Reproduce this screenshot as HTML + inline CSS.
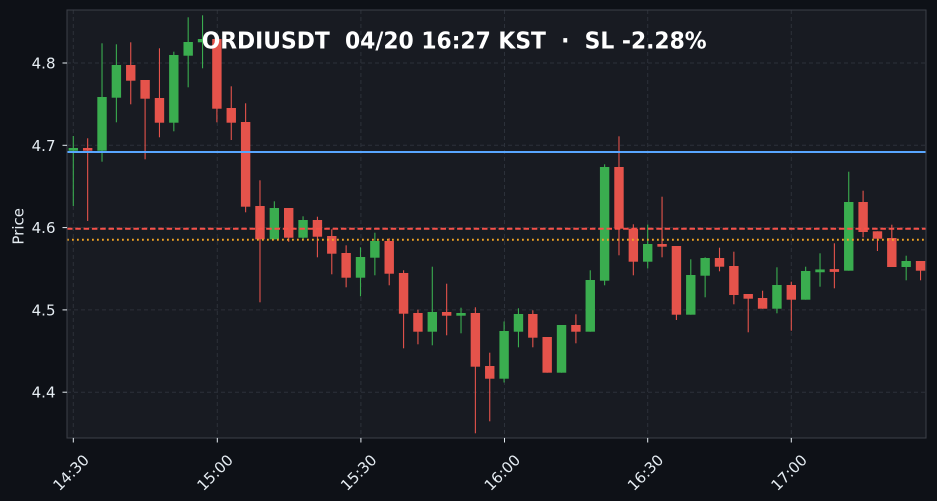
<!DOCTYPE html>
<html>
<head>
<meta charset="utf-8">
<style>
  html, body { margin: 0; padding: 0; background: #0e1117; }
  svg { display: block; }
  text { font-family: "DejaVu Sans", "Liberation Sans", sans-serif; }
</style>
</head>
<body>
<svg width="937" height="501" viewBox="0 0 937 501" xmlns="http://www.w3.org/2000/svg">
  <rect x="0" y="0" width="937" height="501" fill="#0e1117"/>
  <!-- plot area -->
  <rect x="67" y="10" width="859" height="428" fill="#181b22"/>

  <!-- grid -->
  <g stroke="#2c313a" stroke-width="1" stroke-dasharray="4,3" fill="none">
    <line x1="67" x2="926" y1="63" y2="63"/>
    <line x1="67" x2="926" y1="145.3" y2="145.3"/>
    <line x1="67" x2="926" y1="227.6" y2="227.6"/>
    <line x1="67" x2="926" y1="309.9" y2="309.9"/>
    <line x1="67" x2="926" y1="392.2" y2="392.2"/>
    <line y1="10" y2="438" x1="73.3" x2="73.3"/>
    <line y1="10" y2="438" x1="217.3" x2="217.3"/>
    <line y1="10" y2="438" x1="360.9" x2="360.9"/>
    <line y1="10" y2="438" x1="504.5" x2="504.5"/>
    <line y1="10" y2="438" x1="647.7" x2="647.7"/>
    <line y1="10" y2="438" x1="791.3" x2="791.3"/>
  </g>

  <!-- candles -->
  <g id="candles"></g>

  <!-- reference lines -->
  <line x1="67" x2="926" y1="152" y2="152" stroke="#58a6ff" stroke-width="2"/>
  <line x1="67" x2="926" y1="228.7" y2="228.7" stroke="#f85149" stroke-width="2" stroke-dasharray="5.5,2.8"/>
  <line x1="67" x2="926" y1="239.7" y2="239.7" stroke="#f5a623" stroke-width="2" stroke-dasharray="1.8,3.2"/>

  <!-- spines -->
  <rect x="67" y="10" width="859" height="428" fill="none" stroke="#3c4048" stroke-width="1"/>

  <!-- y ticks -->
  <g stroke="#e6edf3" stroke-width="1">
    <line x1="62.5" x2="67" y1="63" y2="63"/>
    <line x1="62.5" x2="67" y1="145.3" y2="145.3"/>
    <line x1="62.5" x2="67" y1="227.6" y2="227.6"/>
    <line x1="62.5" x2="67" y1="309.9" y2="309.9"/>
    <line x1="62.5" x2="67" y1="392.2" y2="392.2"/>
  </g>
  <g fill="#e6edf3" font-size="15" text-anchor="end">
    <text x="55.5" y="68.5">4.8</text>
    <text x="55.5" y="150.8">4.7</text>
    <text x="55.5" y="233.1">4.6</text>
    <text x="55.5" y="315.4">4.5</text>
    <text x="55.5" y="397.7">4.4</text>
  </g>
  <text x="23.3" y="226.3" fill="#e6edf3" font-size="15" text-anchor="middle" transform="rotate(-90 23.3 226.3)">Price</text>

  <!-- x ticks -->
  <g stroke="#e6edf3" stroke-width="1">
    <line y1="438" y2="442.5" x1="73.3" x2="73.3"/>
    <line y1="438" y2="442.5" x1="217.3" x2="217.3"/>
    <line y1="438" y2="442.5" x1="360.9" x2="360.9"/>
    <line y1="438" y2="442.5" x1="504.5" x2="504.5"/>
    <line y1="438" y2="442.5" x1="647.7" x2="647.7"/>
    <line y1="438" y2="442.5" x1="791.3" x2="791.3"/>
  </g>
  <g fill="#e6edf3" font-size="15" text-anchor="end">
    <text x="90" y="461" transform="rotate(-45 90 461)">14:30</text>
    <text x="234" y="461" transform="rotate(-45 234 461)">15:00</text>
    <text x="377.6" y="461" transform="rotate(-45 377.6 461)">15:30</text>
    <text x="521.2" y="461" transform="rotate(-45 521.2 461)">16:00</text>
    <text x="664.4" y="461" transform="rotate(-45 664.4 461)">16:30</text>
    <text x="808" y="461" transform="rotate(-45 808 461)">17:00</text>
  </g>

  <!-- title -->
  <text x="201.7" y="48.3" fill="#ffffff" font-size="23" font-weight="bold" xml:space="preserve" textLength="505" lengthAdjust="spacingAndGlyphs">ORDIUSDT  04/20 16:27 KST  ·  SL -2.28%</text>

  <script>
    (function(){
      var d = [
        ['G',136,206,148,150.7],
        ['R',138.3,221,148,150.7],
        ['G',43.3,161.7,97,150.7],
        ['G',44.3,122.3,65,97.7],
        ['R',42.3,104.3,65,80.7],
        ['R',80,159.3,80,98.7],
        ['R',48.3,137.3,98,122.7],
        ['G',51.7,131.3,55,122.7],
        ['G',17.3,87.3,42,55.7],
        ['G',15.3,68.3,39,42.3],
        ['R',39,122.3,39,108.7],
        ['R',86.3,140,108,122.7],
        ['R',103.3,212.3,122,206.7],
        ['R',180.3,302.3,206,239.3],
        ['G',201.3,239.3,208,239.3],
        ['R',208,241.7,208,237.7],
        ['G',216.3,239.3,220,237.7],
        ['R',216.7,257.3,220,236.7],
        ['R',229.3,274.3,236,253.7],
        ['R',245.3,287.3,253,277.7],
        ['G',247.3,296.3,257,277.7],
        ['G',232.7,275.3,241,257.7],
        ['R',238.3,285.3,241,273.7],
        ['R',270.3,348.3,273,313.7],
        ['R',309.7,344.3,313,331.7],
        ['G',266.7,345.3,312,331.7],
        ['R',283.7,335.3,312,315.7],
        ['G',307.7,333.3,313,315.7],
        ['R',307.3,433.3,313,366.7],
        ['R',352.7,421.3,366,378.7],
        ['G',321.5,382.5,331,378.7],
        ['G',308.3,347.3,314,331.7],
        ['R',310.3,347.3,314,337.7],
        ['R',337,372.7,337,372.7],
        ['G',325,372.7,325,372.7],
        ['R',314.3,343.3,325,331.7],
        ['G',270.3,331.7,280,331.7],
        ['G',164.3,285.3,167,280.7],
        ['R',136.3,255.3,167,228.7],
        ['R',224.3,275.3,228.7,261.7],
        ['G',224.5,268.5,244,261.7],
        ['R',196.7,257.3,244,246.7],
        ['R',246,320,246,314.7],
        ['G',259.3,314.7,275,314.7],
        ['G',257.3,297.3,258,275.7],
        ['R',247.7,271.3,258,266.7],
        ['R',251.7,304.3,266,295],
        ['R',294,332.3,294,298.7],
        ['R',290.7,308.7,298,308.7],
        ['G',267.3,313.3,285,308.7],
        ['R',281.7,330.7,285,299.7],
        ['G',266.7,299.7,271,299.7],
        ['G',253.3,286.7,270,271.7],
        ['R',243.3,288.3,270,271],
        ['G',171.7,270.7,202,270.7],
        ['R',190.7,237.3,202,232],
        ['R',231.3,251,231.3,238.7],
        ['R',224.7,267,238,267],
        ['G',255.7,280.3,261,267],
        ['R',261,280.3,261,270.7]
      ];
      var g = document.getElementById('candles');
      var ns = 'http://www.w3.org/2000/svg';
      var bw = 9.4;
      for (var i = 0; i < d.length; i++) {
        var c = d[i];
        var x = 73.3 + i * 14.36;
        var col = c[0] === 'G' ? '#3aad4f' : '#e5534b';
        var w = document.createElementNS(ns, 'line');
        w.setAttribute('x1', x); w.setAttribute('x2', x);
        w.setAttribute('y1', c[1]); w.setAttribute('y2', c[2]);
        w.setAttribute('stroke', col); w.setAttribute('stroke-width', '1.1');
        g.appendChild(w);
        var top = c[3], h = c[4] - c[3];
        if (h < 2.5) { var m = (c[3] + c[4]) / 2; top = m - 1.4; h = 2.8; }
        var r = document.createElementNS(ns, 'rect');
        r.setAttribute('x', x - bw / 2); r.setAttribute('y', top);
        r.setAttribute('width', bw); r.setAttribute('height', h);
        r.setAttribute('fill', col);
        g.appendChild(r);
      }
    })();
  </script>
</svg>
</body>
</html>
